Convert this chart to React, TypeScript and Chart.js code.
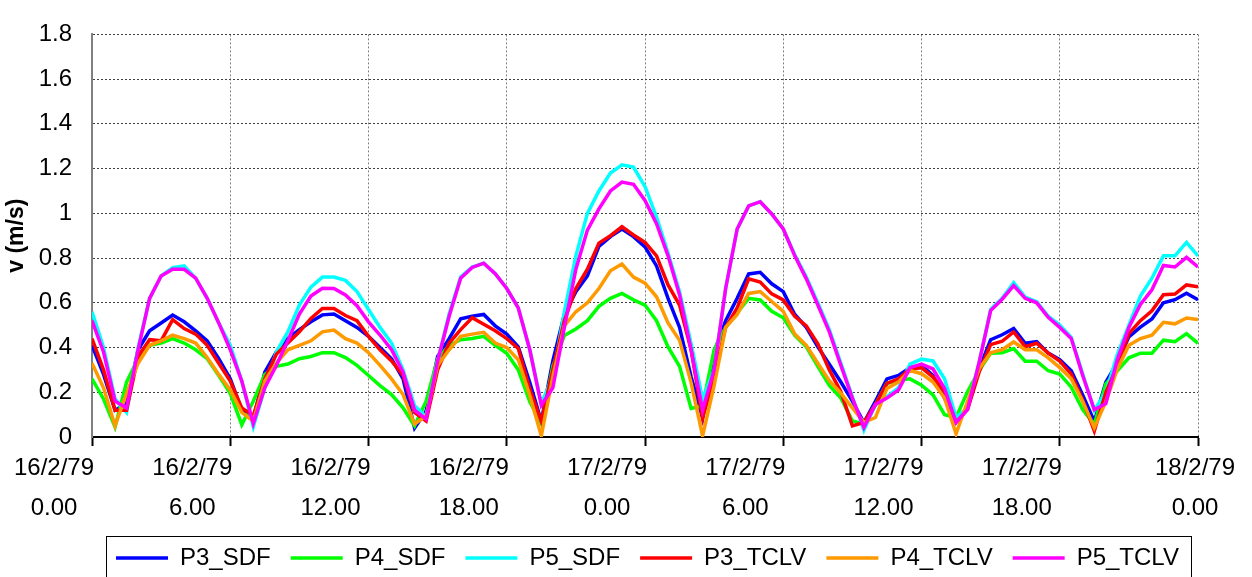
import React, { useEffect, useRef } from 'react';
import { Chart, registerables } from 'chart.js';

Chart.register(...registerables);

const HOURS = [
  0, 0.5, 1, 1.5, 2, 2.5, 3, 3.5, 4, 4.5, 5, 5.5,
  6, 6.5, 7, 7.5, 8, 8.5, 9, 9.5, 10, 10.5, 11, 11.5,
  12, 12.5, 13, 13.5, 14, 14.5, 15, 15.5, 16, 16.5, 17, 17.5,
  18, 18.5, 19, 19.5, 20, 20.5, 21, 21.5, 22, 22.5, 23, 23.5,
  24, 24.5, 25, 25.5, 26, 26.5, 27, 27.5, 28, 28.5, 29, 29.5,
  30, 30.5, 31, 31.5, 32, 32.5, 33, 33.5, 34, 34.5, 35, 35.5,
  36, 36.5, 37, 37.5, 38, 38.5, 39, 39.5, 40, 40.5, 41, 41.5,
  42, 42.5, 43, 43.5, 44, 44.5, 45, 45.5, 46, 46.5, 47, 47.5,
  48,
];

const P3_SDF = [
  0.41, 0.28, 0.12, 0.15, 0.39, 0.475, 0.51, 0.545, 0.515, 0.475, 0.43, 0.35,
  0.26, 0.12, 0.08, 0.29, 0.38, 0.44, 0.48, 0.515, 0.546, 0.55, 0.52, 0.49,
  0.45, 0.40, 0.35, 0.26, 0.04, 0.116, 0.36, 0.44, 0.528, 0.54, 0.548, 0.497,
  0.46, 0.403, 0.243, 0.07, 0.34, 0.548, 0.65, 0.72, 0.852, 0.896, 0.93, 0.896,
  0.85, 0.765, 0.62, 0.49, 0.27, 0.084, 0.38, 0.52, 0.62, 0.729, 0.736, 0.685,
  0.65, 0.548, 0.49, 0.403, 0.325, 0.246, 0.16, 0.065, 0.16, 0.26, 0.275, 0.31,
  0.32, 0.275, 0.174, 0.08, 0.13, 0.304, 0.435, 0.457, 0.485, 0.419, 0.426, 0.375,
  0.346, 0.296, 0.187, 0.07, 0.245, 0.332, 0.448, 0.491, 0.528, 0.60, 0.614, 0.643,
  0.614,
];

const P4_SDF = [
  0.26, 0.17, 0.045, 0.245, 0.35, 0.41, 0.42, 0.44, 0.42, 0.39, 0.35, 0.275,
  0.195, 0.055, 0.16, 0.28, 0.316, 0.326, 0.35, 0.36, 0.377, 0.377, 0.355, 0.32,
  0.275, 0.23, 0.19, 0.13, 0.05, 0.16, 0.35, 0.41, 0.435, 0.44, 0.45, 0.41,
  0.374, 0.30, 0.157, 0.06, 0.316, 0.454, 0.483, 0.52, 0.584, 0.62, 0.642, 0.613,
  0.59, 0.52, 0.403, 0.316, 0.128, 0.14, 0.39, 0.49, 0.555, 0.62, 0.613, 0.562,
  0.533, 0.454, 0.403, 0.316, 0.23, 0.174, 0.072, 0.058, 0.145, 0.24, 0.254, 0.26,
  0.232, 0.188, 0.10, 0.087, 0.203, 0.297, 0.374, 0.377, 0.395, 0.339, 0.339, 0.296,
  0.281, 0.223, 0.122, 0.057, 0.238, 0.296, 0.354, 0.375, 0.375, 0.433, 0.426, 0.462,
  0.419,
];

const P5_SDF = [
  0.56, 0.40, 0.17, 0.11, 0.40, 0.62, 0.72, 0.757, 0.765, 0.71, 0.62, 0.51,
  0.41, 0.25, 0.045, 0.22, 0.38, 0.47, 0.59, 0.67, 0.715, 0.715, 0.70, 0.65,
  0.57, 0.49, 0.42, 0.30, 0.14, 0.09, 0.34, 0.55, 0.715, 0.76, 0.777, 0.73,
  0.665, 0.577, 0.39, 0.15, 0.27, 0.56, 0.81, 1.0, 1.10, 1.18, 1.217, 1.207,
  1.12, 0.983, 0.823, 0.65, 0.417, 0.17, 0.30, 0.664, 0.93, 1.033, 1.052, 0.997,
  0.93, 0.815, 0.715, 0.60, 0.48, 0.33, 0.18, 0.03, 0.145, 0.18, 0.22, 0.326,
  0.348, 0.34, 0.26, 0.087, 0.13, 0.333, 0.57, 0.62, 0.69, 0.625, 0.605, 0.54,
  0.50, 0.445, 0.28, 0.12, 0.20, 0.37, 0.50, 0.63, 0.71, 0.81, 0.81, 0.87,
  0.81,
];

const P3_TCLV = [
  0.44, 0.30, 0.12, 0.12, 0.36, 0.435, 0.43, 0.525, 0.485, 0.46, 0.41, 0.33,
  0.25, 0.13, 0.095, 0.26, 0.37, 0.42, 0.47, 0.53, 0.575, 0.575, 0.543, 0.52,
  0.45, 0.39, 0.34, 0.275, 0.11, 0.072, 0.30, 0.42, 0.48, 0.533, 0.504, 0.475,
  0.44, 0.396, 0.214, 0.07, 0.30, 0.52, 0.664, 0.75, 0.867, 0.90, 0.94, 0.903,
  0.87, 0.81, 0.68, 0.59, 0.39, 0.084, 0.27, 0.49, 0.577, 0.707, 0.693, 0.64,
  0.613, 0.54, 0.497, 0.417, 0.30, 0.203, 0.05, 0.065, 0.145, 0.24, 0.26, 0.304,
  0.31, 0.268, 0.203, 0.065, 0.123, 0.29, 0.413, 0.428, 0.47, 0.404, 0.419, 0.375,
  0.339, 0.281, 0.165, 0.027, 0.20, 0.317, 0.462, 0.52, 0.564, 0.636, 0.639, 0.68,
  0.672,
];

const P4_TCLV = [
  0.33, 0.22, 0.05, 0.195, 0.33, 0.41, 0.43, 0.455, 0.44, 0.42, 0.355, 0.28,
  0.21, 0.11, 0.07, 0.25, 0.33, 0.39, 0.41, 0.43, 0.47, 0.478, 0.44, 0.42,
  0.377, 0.32, 0.26, 0.19, 0.058, 0.094, 0.32, 0.39, 0.45, 0.46, 0.468, 0.42,
  0.40, 0.345, 0.186, 0.005, 0.27, 0.497, 0.56, 0.60, 0.664, 0.743, 0.773, 0.715,
  0.688, 0.627, 0.51, 0.432, 0.243, 0.005, 0.23, 0.49, 0.548, 0.642, 0.65, 0.606,
  0.562, 0.46, 0.41, 0.33, 0.252, 0.196, 0.13, 0.065, 0.087, 0.217, 0.246, 0.297,
  0.283, 0.246, 0.174, 0.014, 0.16, 0.304, 0.377, 0.39, 0.425, 0.39, 0.39, 0.354,
  0.31, 0.26, 0.158, 0.042, 0.158, 0.303, 0.41, 0.44, 0.455, 0.513, 0.506, 0.532,
  0.525,
];

const P5_TCLV = [
  0.52, 0.38, 0.16, 0.13, 0.39, 0.62, 0.72, 0.75, 0.75, 0.71, 0.62, 0.51,
  0.39, 0.25, 0.06, 0.22, 0.32, 0.43, 0.55, 0.63, 0.665, 0.664, 0.635, 0.587,
  0.515, 0.456, 0.39, 0.29, 0.12, 0.08, 0.34, 0.54, 0.71, 0.758, 0.777, 0.73,
  0.664, 0.577, 0.39, 0.142, 0.22, 0.49, 0.75, 0.925, 1.02, 1.10, 1.14, 1.13,
  1.058, 0.954, 0.81, 0.635, 0.39, 0.12, 0.30, 0.664, 0.93, 1.033, 1.052, 0.997,
  0.93, 0.81, 0.707, 0.59, 0.47, 0.32, 0.174, 0.043, 0.145, 0.174, 0.21, 0.31,
  0.326, 0.304, 0.217, 0.065, 0.123, 0.333, 0.565, 0.616, 0.677, 0.62, 0.60, 0.535,
  0.49, 0.44, 0.274, 0.122, 0.15, 0.346, 0.49, 0.593, 0.658, 0.767, 0.76, 0.803,
  0.76,
];

const TICK_HOURS = [0, 6, 12, 18, 24, 30, 36, 42, 48];
const DATE_LABELS = ['16/2/79', '16/2/79', '16/2/79', '16/2/79', '17/2/79', '17/2/79', '17/2/79', '17/2/79', '18/2/79'];
const TIME_LABELS = ['0.00', '6.00', '12.00', '18.00', '0.00', '6.00', '12.00', '18.00', '0.00'];

const SERIES_NAMES = ['P3_SDF', 'P4_SDF', 'P5_SDF', 'P3_TCLV', 'P4_TCLV', 'P5_TCLV'];
const SERIES_VALUES = [P3_SDF, P4_SDF, P5_SDF, P3_TCLV, P4_TCLV, P5_TCLV];
const SERIES_COLORS = ['#0000FF', '#00FF00', '#00FFFF', '#FF0000', '#FF9900', '#FF00FF'];

const FONT = "'Liberation Sans', Arial, sans-serif";
const TEXT_SIZE = 24;

const xLabelsPlugin = {
  id: 'xLabels',
  afterDraw(chart: any) {
    const { ctx, chartArea, scales } = chart;
    const xs = scales.x;
    ctx.save();
    ctx.font = `${TEXT_SIZE}px ${FONT}`;
    ctx.fillStyle = '#000';
    ctx.textAlign = 'center';
    ctx.textBaseline = 'middle';
    TICK_HOURS.forEach((h, i) => {
      const shift = i === TICK_HOURS.length - 1 ? -3 : -38;
      const x = xs.getPixelForValue(h) + shift;
      ctx.fillText(DATE_LABELS[i], x, chartArea.bottom + 31);
      ctx.fillText(TIME_LABELS[i], x, chartArea.bottom + 71);
    });
    ctx.restore();
  },
};

const legendFramePlugin = {
  id: 'legendFrame',
  afterLayout(chart: any) {
    const lg = chart.legend;
    if (!lg || !lg.lineWidths) return;
    const p = lg.options.labels.padding;
    const start = (lg.left + p + lg.right - lg.lineWidths[0]) / 2;
    const dx = 116 - start;
    lg.left += dx;
    lg.right += dx;
  },
  afterDraw(chart: any) {
    const lg = chart.legend;
    const hb = lg && lg.legendHitBoxes;
    if (!hb || !hb.length) return;
    const { ctx } = chart;
    const last = hb[hb.length - 1];
    const l = Math.round(hb[0].left - 10) + 0.5;
    const r = Math.round(last.left + last.width + 12) + 0.5;
    const top = Math.round(chart.chartArea.bottom + 99) + 0.5;
    ctx.save();
    ctx.strokeStyle = '#000';
    ctx.lineWidth = 1;
    ctx.strokeRect(l, top, r - l, 100);
    ctx.restore();
  },
};

export default function App() {
  const ref = useRef<HTMLCanvasElement>(null);

  useEffect(() => {
    const canvas = ref.current;
    if (!canvas) return;
    const datasets = SERIES_NAMES.map((name, i) => ({
      label: name,
      data: HOURS.map((h, j) => ({ x: h, y: SERIES_VALUES[i][j] })),
      borderColor: SERIES_COLORS[i],
      backgroundColor: SERIES_COLORS[i],
      borderWidth: 3.5,
      pointRadius: 0,
      pointHoverRadius: 0,
      tension: 0,
      fill: false,
      order: SERIES_NAMES.length - i,
    }));

    const chart = new Chart(canvas, {
      type: 'line',
      data: { datasets },
      plugins: [xLabelsPlugin, legendFramePlugin],
      options: {
        responsive: false,
        animation: false,
        devicePixelRatio: 1,
        events: [],
        layout: { padding: { top: 22, right: 54, left: 0, bottom: 0 } },
        scales: {
          x: {
            type: 'linear',
            min: 0,
            max: 48,
            afterFit: (scale: any) => { scale.height = 89; },
            ticks: { stepSize: 6, display: false },
            grid: {
              color: '#808080',
              lineWidth: 1,
              drawTicks: true,
              tickLength: 9,
              tickColor: '#000',
              tickWidth: 2,
            },
            border: { display: true, color: '#000', width: 2, dash: [2, 2] },
          },
          y: {
            min: 0,
            max: 1.8,
            afterFit: (scale: any) => { scale.width = 92; },
            ticks: {
              stepSize: 0.2,
              padding: 20,
              color: '#000',
              font: { family: FONT, size: TEXT_SIZE },
              callback: (v: any) => String(Math.round(Number(v) * 10) / 10),
            },
            grid: { color: '#404040', lineWidth: 1, drawTicks: false },
            border: { display: true, color: '#808080', width: 2, dash: [2, 2] },
            title: {
              display: true,
              text: 'v (m/s)',
              color: '#000',
              font: { family: FONT, size: 23, weight: 'bold', lineHeight: 1 },
              padding: { top: 5.5, bottom: 0 },
            },
          },
        },
        plugins: {
          tooltip: { enabled: false },
          legend: {
            position: 'bottom',
            maxHeight: 51,
            labels: {
              usePointStyle: true,
              pointStyle: 'line',
              pointStyleWidth: 52,
              color: '#000',
              font: { family: FONT, size: TEXT_SIZE },
              padding: 20,
              sort: (a: any, b: any) => a.datasetIndex - b.datasetIndex,
            },
          },
        },
      } as any,
    });

    return () => chart.destroy();
  }, []);

  return (
    <div style={{ position: 'fixed', left: 0, top: 0, width: 1252, height: 577, background: '#fff' }}>
      <canvas ref={ref} width={1252} height={577} style={{ display: 'block' }} />
    </div>
  );
}
